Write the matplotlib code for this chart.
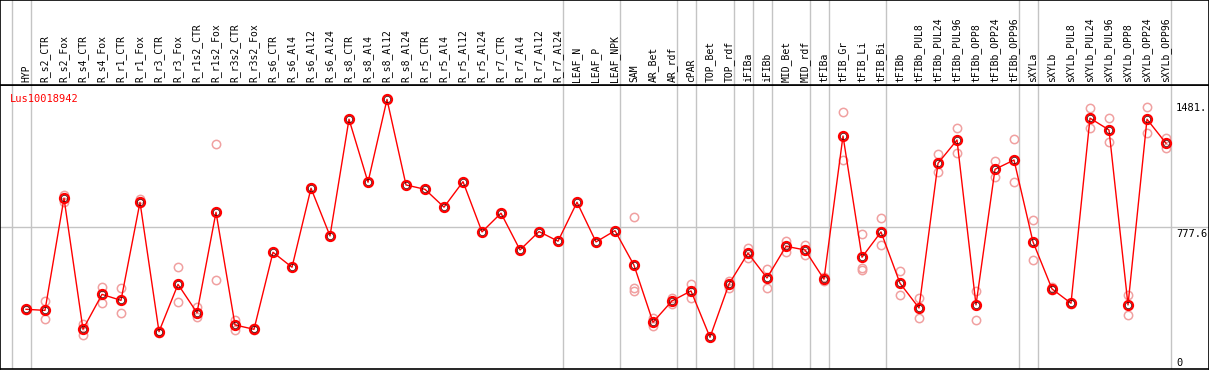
import matplotlib
matplotlib.use("Agg")
import matplotlib.pyplot as plt
import matplotlib.transforms as mtransforms

gene = "Lus10018942"

samples = ["HYP", "R_s2_CTR", "R_s2_Fox", "R_s4_CTR", "R_s4_Fox", "R_r1_CTR", "R_r1_Fox",
           "R_r3_CTR", "R_r3_Fox", "R_r1s2_CTR", "R_r1s2_Fox", "R_r3s2_CTR", "R_r3s2_Fox",
           "R_s6_CTR", "R_s6_Al4", "R_s6_Al12", "R_s6_Al24", "R_s8_CTR", "R_s8_Al4",
           "R_s8_Al12", "R_s8_Al24", "R_r5_CTR", "R_r5_Al4", "R_r5_Al12", "R_r5_Al24",
           "R_r7_CTR", "R_r7_Al4", "R_r7_Al12", "R_r7_Al24", "LEAF_N", "LEAF_P", "LEAF_NPK",
           "SAM", "AR_Bet", "AR_rdf", "cPAR", "TOP_Bet", "TOP_rdf", "iFIBa", "iFIBb",
           "MID_Bet", "MID_rdf", "tFIBa", "tFIB_Gr", "tFIB_Li", "tFIB_Bi", "tFIBb",
           "tFIBb_PUL8", "tFIBb_PUL24", "tFIBb_PUL96", "tFIBb_OPP8", "tFIBb_OPP24",
           "tFIBb_OPP96", "sXYLa", "sXYLb", "sXYLb_PUL8", "sXYLb_PUL24", "sXYLb_PUL96",
           "sXYLb_OPP8", "sXYLb_OPP24", "sXYLb_OPP96"]

means = [328, 322, 938, 218, 410, 377, 916, 205, 465, 309, 861, 242, 218,
         641, 559, 993, 731, 1372, 1026, 1481, 1011, 987, 889, 1029, 753,
         856, 654, 755, 702, 916, 698, 760,
         570, 257, 374, 429, 174, 467, 636, 500, 674, 654,
         493, 1280, 614, 753, 471, 335, 1130, 1258, 352, 1097, 1148,
         698, 440, 361, 1378, 1313, 352, 1372, 1240]

reps = [[332, 325], [374, 273], [956, 919], [245, 187], [451, 364], [445, 309], [934, 913],
        [210, 200], [559, 370], [341, 287], [1235, 487], [269, 214], [225, 212],
        [], [], [], [], [], [], [], [], [], [], [], [], [], [], [], [], [], [], [],
        [834, 447, 429], [279, 238], [389, 356], [465, 392], [], [484, 447],
        [667, 608], [548, 445], [705, 641], [681, 626],
        [505, 482], [1411, 1147], [740, 557, 545], [828, 680], [537, 405],
        [389, 279], [1180, 1081], [1323, 1185], [429, 269], [1143, 1057], [1264, 1028],
        [817, 599], [448, 432], [365, 358], [1433, 1323], [1378, 1246], [407, 297],
        [1441, 1299], [1268, 1216]]

group_ends = [-1, 0, 28, 31, 34, 35, 37, 38, 39, 41, 42, 45, 52, 53, 60]

y_marks = [0, 777.6, 1481]
y_mark_labels = ["0", "777.6", "1481."]

W, H = 1209, 370
fig = plt.figure(figsize=(W / 100, H / 100), dpi=100)
plt.rcParams['font.family'] = 'DejaVu Sans Mono'

xlim = (-26 / 19, (W - 26) / 19)
ax = fig.add_axes([0, 1 / H, 1, 284 / H])
hd = fig.add_axes([0, 285 / H, 1, 85 / H])

for a in (ax, hd):
    a.set_xlim(xlim)
    a.set_xticks([])
    a.set_yticks([])
    for s in a.spines.values():
        s.set_color("black")
        s.set_linewidth(1.2)
    for g in group_ends:
        a.axvline(g + 0.25, color="#c4c4c4", lw=1, zorder=0)

hd.set_ylim(0, 1)
for i, name in enumerate(samples):
    hd.text(i, 0.03, name, rotation=90, ha="center", va="bottom", fontsize=7)

ax.set_ylim(0, 1560)
ax.axhline(777.6, color="#c4c4c4", lw=1, zorder=0)

for i, r in enumerate(reps):
    if r:
        ax.plot([i] * len(r), r, "o", ms=6, mfc="none", mec="#f0a0a0", mew=1.1, zorder=2)

x = list(range(len(means)))
ax.plot(x, means, "-", color="red", lw=1, zorder=3)
ax.plot(x, means, "o", ms=6.5, mfc="none", mec="red", mew=1.6, zorder=4)
ax.plot(x, means, "o", ms=4.5, mfc="none", mec="#400000", mew=0.5, zorder=5)

ax.text(10 / W, 0.95, gene, transform=ax.transAxes, color="red", fontsize=7.5,
        ha="left", va="center")

tr = mtransforms.blended_transform_factory(ax.transAxes, ax.transData)
for v, lab in zip(y_marks, y_mark_labels):
    if v == 0:
        ax.text(1176 / W, v + 5, lab, transform=tr, fontsize=7.5, ha="left", va="bottom")
    elif v == max(y_marks):
        ax.text(1176 / W, v - 20, lab, transform=tr, fontsize=7.5, ha="left", va="top")
    else:
        ax.text(1176 / W, v - 6, lab, transform=tr, fontsize=7.5, ha="left", va="top")

fig.savefig("out.png", dpi=100)
